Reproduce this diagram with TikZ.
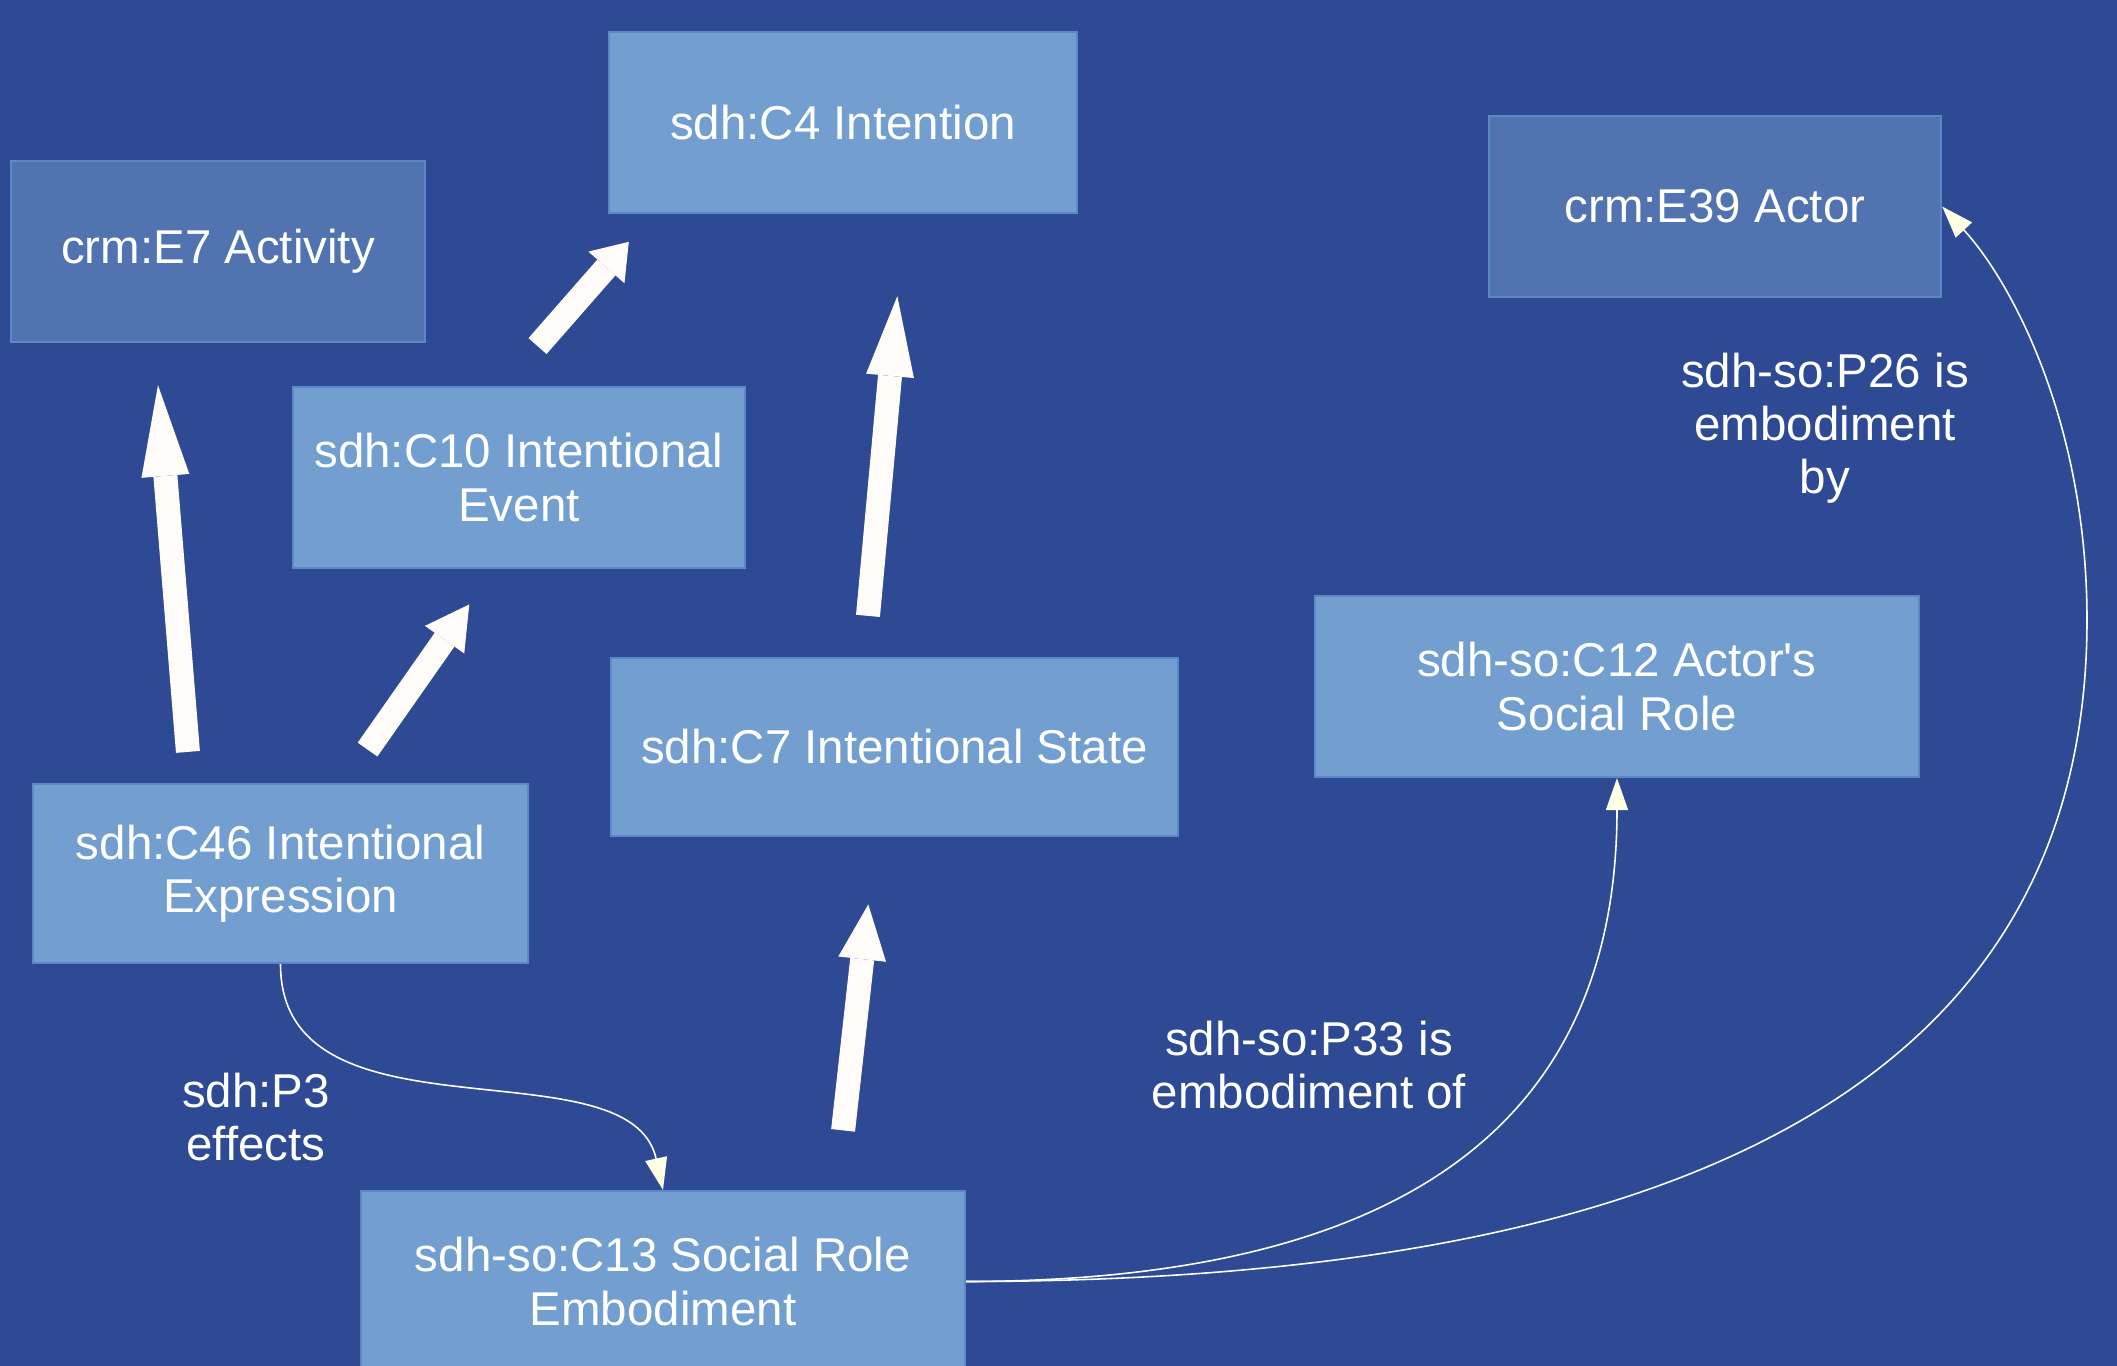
\documentclass[tikz,border=0pt]{standalone}
\usepackage{fontspec}
\setmainfont{Liberation Sans}
\usetikzlibrary{arrows.meta}
\definecolor{bgblue}{RGB}{46,74,148}
\definecolor{boxlight}{RGB}{114,159,207}
\definecolor{boxdark}{RGB}{81,116,176}
\definecolor{boxedge}{RGB}{92,136,200}
\definecolor{arrowwhite}{RGB}{255,251,248}
\definecolor{tipcream}{RGB}{255,255,228}
\begin{document}
\begin{tikzpicture}[x=.01cm,y=-.01cm,font=\fontsize{13.5}{15.1}\selectfont,
  cls/.style={rectangle,draw=boxedge,line width=.6pt,text=white,align=center,inner sep=0pt},
  bigarrow/.style={draw=arrowwhite,line width=.24cm,-{Triangle[width=.48cm,length=#1,line width=0pt]}},
  prop/.style={draw=white,line width=.45pt,-{Triangle[width=.22cm,length=.32cm,color=tipcream]}},
  lbl/.style={text=white,align=center}]
  \fill[bgblue] (0,0) rectangle (2117,1366);
  \useasboundingbox (0,0) rectangle (2117,1366);
  \foreach \name/\x/\y/\w/\h/\fc/\txt in {
    e7/218/251.5/4.14/1.81/boxdark/{crm:E7 Activity},
    c4/843/122.5/4.68/1.81/boxlight/{sdh:C4 Intention},
    c10/519/477.5/4.52/1.81/boxlight/{sdh:C10 Intentional\\Event},
    e39/1715/206.5/4.52/1.81/boxdark/{crm:E39 Actor},
    c12/1617/686.5/6.04/1.81/boxlight/{sdh-so:C12 Actor\textquotesingle s\\Social Role},
    c7/894.5/747/5.67/1.78/boxlight/{sdh:C7 Intentional State},
    c46/280.5/873.5/4.95/1.79/boxlight/{sdh:C46 Intentional\\Expression},
    c13/663/1281.5/6.04/1.81/boxlight/{sdh-so:C13 Social Role\\Embodiment}}
  {
    \node[cls,fill=\fc,minimum width=\w cm,minimum height=\h cm] (\name) at (\x,\y) {\txt};
  }
  \foreach \src/\sx/\sy/\dst/\dx/\dy/\hl in {
    c46.north/-0.925/0.31/e7.south/-0.60/-0.42/0.91,
    c46.north/0.87/0.333/c10.south/-0.497/-0.353/0.43,
    c10.north/0.185/0.398/c4.south west/0.21/-0.277/0.34,
    c7.north/-0.265/0.41/c4.south/0.543/-0.82/0.80,
    c13.north/1.80/0.595/c7.south/-0.262/-0.673/0.55}
  {
    \draw[bigarrow=\hl cm] ([xshift=\sx cm,yshift=\sy cm]\src) -- ([xshift=\dx cm,yshift=\dy cm]\dst);
  }
  \draw[prop] (c46.south) .. controls (280.5,1150) and (630,1040) .. (c13.north);
  \draw[prop] (c13.east) .. controls (1380,1281) and (1617,1140) .. (c12.south);
  \draw[prop] (c13.east) .. controls (1650,1281) and (2087,1100) .. (2087,620)
    .. controls (2087,420) and (2010,280) .. (e39.east);
  \foreach \name/\x/\y/\txt in {
    p3/256/1117/{sdh:P3\\effects},
    p33/1309/1065/{sdh-so:P33 is\\embodiment of},
    p26/1825/428/{sdh-so:P26 is\\embodiment\\by}}
  {
    \node[lbl] (\name) at (\x,\y) {\txt};
  }
\end{tikzpicture}
\end{document}
